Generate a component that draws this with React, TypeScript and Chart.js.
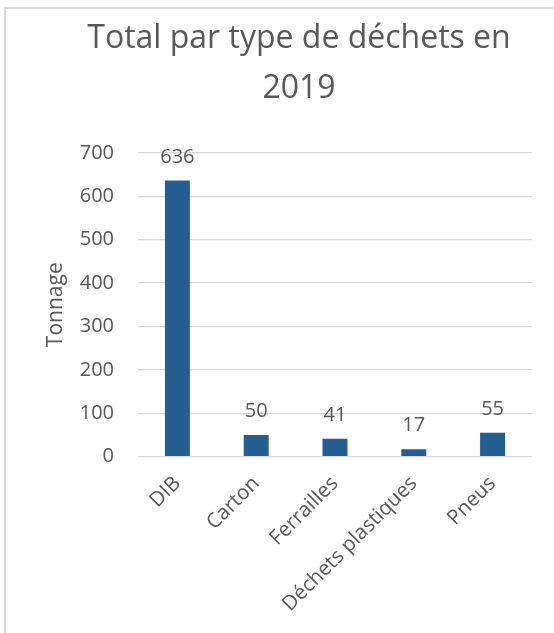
import React, { useEffect, useRef } from "react";
import { Chart, registerables } from "chart.js";

Chart.register(...registerables);

const categories = ["DIB", "Carton", "Ferrailles", "Déchets plastiques", "Pneus"];
const tonnage = [636, 50, 41, 17, 55];
const titleLines = ["Total par type de déchets en", "2019"];
const yAxisTitle = "Tonnage";
const yMin = 0;
const yMax = 700;
const yStep = 100;

const FONT = "'Open Sans', 'Noto Sans', sans-serif";
const TEXT = "#595959";

const valueLabels = {
  id: "valueLabels",
  afterDatasetsDraw(chart: any) {
    const ctx = chart.ctx;
    ctx.save();
    ctx.font = `20px ${FONT}`;
    ctx.fillStyle = TEXT;
    ctx.textAlign = "center";
    ctx.textBaseline = "alphabetic";
    chart.data.datasets.forEach((ds: any, i: number) => {
      const meta = chart.getDatasetMeta(i);
      meta.data.forEach((bar: any, j: number) => {
        ctx.fillText(String(ds.data[j]), bar.x, bar.y - 18);
      });
    });
    ctx.restore();
  },
};

export default function App() {
  const ref = useRef<HTMLCanvasElement>(null);
  useEffect(() => {
    if (!ref.current) return;
    const chart = new Chart(ref.current, {
      type: "bar",
      data: {
        labels: categories,
        datasets: [
          {
            data: tonnage,
            backgroundColor: "#255E91",
            borderWidth: 0,
            barPercentage: 0.317,
            categoryPercentage: 1,
          },
        ],
      },
      options: {
        responsive: false,
        animation: false,
        devicePixelRatio: 1,
        layout: { padding: 0 },
        plugins: {
          legend: { display: false },
          tooltip: { enabled: false },
          title: {
            display: true,
            text: titleLines,
            color: TEXT,
            font: { family: FONT, size: 32, weight: "normal", lineHeight: 1.56 },
            padding: { top: 14, bottom: 39 },
          },
        },
        scales: {
          x: {
            grid: { display: false },
            border: { display: false },
            ticks: {
              color: TEXT,
              font: { family: FONT, size: 20.5 },
              maxRotation: 45,
              minRotation: 45,
              autoSkip: false,
              padding: 7,
            },
            afterFit(scale: any) {
              scale.height = 633 - 456.6;
            },
          },
          y: {
            min: yMin,
            max: yMax,
            grid: { color: "#D9D9D9", lineWidth: 1.2, drawTicks: false },
            border: { display: false },
            ticks: {
              stepSize: yStep,
              color: TEXT,
              font: { family: FONT, size: 20 },
              padding: 24,
            },
            title: {
              display: true,
              text: yAxisTitle,
              color: TEXT,
              font: { family: FONT, size: 21 },
              padding: { top: 43, bottom: 0 },
            },
            afterFit(scale: any) {
              scale.width = 138;
            },
          },
          yRight: {
            position: "right",
            display: true,
            min: yMin,
            max: yMax,
            grid: { display: false, drawTicks: false },
            border: { display: false },
            ticks: { display: false },
            afterFit(scale: any) {
              scale.width = 66;
            },
          },
        },
      },
      plugins: [valueLabels],
    });
    return () => chart.destroy();
  }, []);

  return (
    <div
      style={{
        position: "fixed",
        left: 0,
        top: 0,
        width: 554,
        height: 633,
        overflow: "hidden",
        background: "#ffffff",
      }}
    >
      <canvas
        ref={ref}
        width={598}
        height={633}
        style={{ position: "absolute", left: 0, top: 0, width: 598, height: 633 }}
      />
      <div
        style={{
          position: "absolute",
          left: 4,
          top: 7,
          width: 800,
          height: 900,
          border: "2px solid #D9D9D9",
          pointerEvents: "none",
        }}
      />
    </div>
  );
}
